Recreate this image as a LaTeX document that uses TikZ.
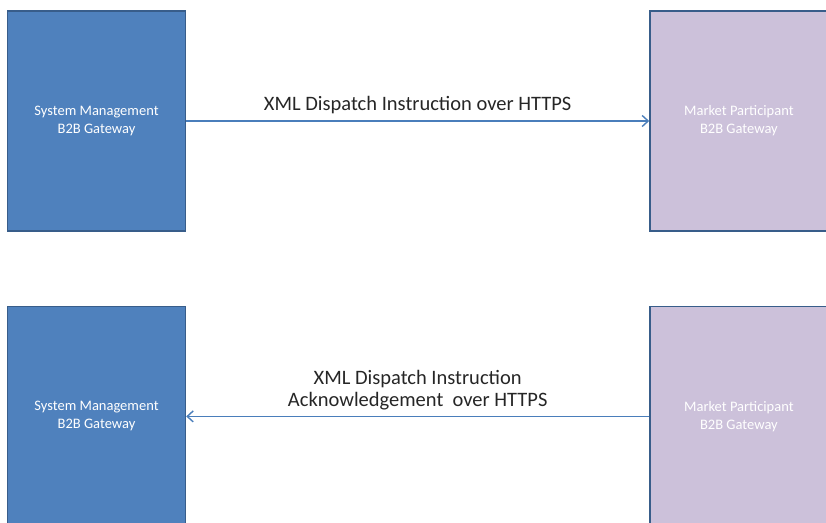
\documentclass[tikz,border=0pt]{standalone}
\usepackage{fontspec}
\setmainfont{Carlito}
\usetikzlibrary{arrows.meta, positioning}
\definecolor{smblue}{HTML}{4F81BD}
\definecolor{edgeblue}{HTML}{385D8A}
\definecolor{mppurple}{HTML}{CCC1DA}
\definecolor{arrowblue}{HTML}{4A7EBB}

\begin{document}
\begin{tikzpicture}[x=1pt,y=-1pt,->,>={Straight Barb[length=6pt,width=11pt,line width=1.4pt]},thick,
  box node/.style={rectangle,draw=edgeblue,line width=1.4pt,minimum width=178pt,
    minimum height=220pt,align=center,text=white,font=\fontsize{14.5}{18}\selectfont},
  sm node/.style={box node,fill=smblue},
  mp node/.style={box node,fill=mppurple}]
  \useasboundingbox (0,0) rectangle (826,522);
  \node[sm node] (1) at (96.5,121) {System Management\\B2B Gateway};
  \node[mp node] (2) [right=463pt of 1] {Market Participant\\B2B Gateway};
  \node[sm node] (3) [below=74pt of 1] {System Management\\B2B Gateway};
  \node[mp node] (4) [below=74pt of 2] {Market Participant\\B2B Gateway};
  \path[draw=arrowblue,line width=1.2pt,every node/.style={text=black!85,align=center,
      font=\fontsize{20.5}{22}\selectfont}]
    (1) edge node [above=3pt] {XML Dispatch Instruction over HTTPS} (2)
    (4) edge node [above=2.5pt] {XML Dispatch Instruction\\Acknowledgement\ \ over\ HTTPS} (3);
\end{tikzpicture}
\end{document}
